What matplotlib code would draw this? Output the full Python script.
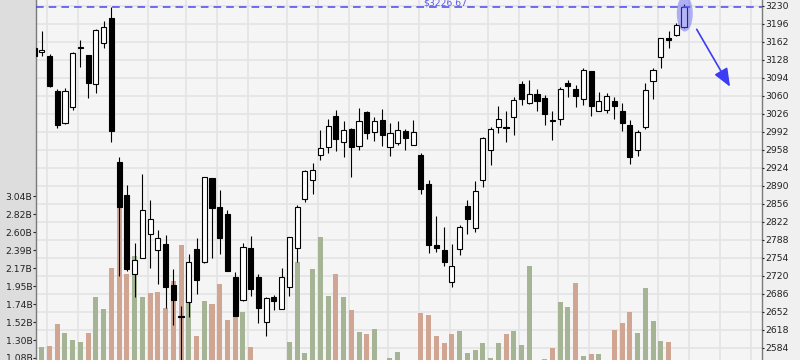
import numpy as np
import matplotlib
matplotlib.use("Agg")
import matplotlib.pyplot as plt
from matplotlib.patches import Ellipse, Rectangle
from matplotlib.transforms import blended_transform_factory

# K线数据（开、高、低、收）
opens = [3150.3, 3141.6, 3134.6, 3068.5, 3008.6, 3038.9, 3150.3, 3136.5, 3081.2, 3159.7,
         3206.4, 2933.8, 2872.1, 2722.3, 2752.5, 2797.8, 2767.6, 2779.5, 2701.5, 2643.0,
         2670.5, 2770.1, 2746.1, 2903.6, 2849.4, 2835.6, 2717.2, 2674.3, 2772.0, 2716.6,
         2631.6, 2679.4, 2657.3, 2697.7, 2772.5, 2865.1, 2901.0, 2948.2, 2963.3, 3020.7,
         2972.7, 2996.2, 2965.2, 3028.3, 2991.6, 3013.2, 2963.3, 2970.9, 2992.4, 2967.1,
         2948.2, 2892.8, 2777.6, 2768.2, 2707.2, 2770.6, 2851.3, 2810.3, 2901.0, 2957.6,
         3001.1, 3000.0, 3020.0, 3081.7, 3046.4, 3062.8, 3055.3, 3013.0, 3015.1, 3083.6,
         3072.3, 3054.0, 3106.3, 3030.2, 3032.1, 3049.6, 3030.7, 3004.3, 2956.5, 3001.1,
         3086.8, 3132.2, 3168.1, 3173.7, 3188.8]
highs = [3153.0, 3181.8, 3137.8, 3071.7, 3073.6, 3141.6, 3164.8, 3137.0, 3185.6, 3200.7,
         3228.0, 2944.4, 2891.0, 2780.8, 2911.7, 2862.6, 2806.0, 2795.9, 2732.3, 2662.4,
         2760.0, 2790.3, 2907.0, 2904.5, 2881.5, 2843.2, 2726.6, 2780.8, 2794.1, 2722.3,
         2680.0, 2683.2, 2733.6, 2793.0, 2852.6, 2918.7, 2931.9, 2994.3, 3015.1, 3032.1,
         3011.3, 2998.0, 3035.8, 3030.2, 3018.8, 3033.9, 3007.5, 3011.3, 2996.2, 3013.2,
         2950.8, 2900.4, 2832.4, 2811.1, 2779.5, 2814.8, 2862.6, 2898.5, 2982.2, 3000.0,
         3039.6, 3030.2, 3057.2, 3087.4, 3089.3, 3072.3, 3061.0, 3030.7, 3075.5, 3089.3,
         3079.9, 3111.4, 3107.0, 3066.6, 3064.2, 3057.2, 3045.8, 3013.7, 2994.3, 3083.6,
         3112.0, 3168.5, 3181.3, 3196.4, 3232.8]
lows = [3133.0, 3135.2, 3075.5, 2999.2, 3006.7, 3033.2, 3114.4, 3055.9, 3065.3, 3150.3,
        2972.7, 2719.1, 2729.1, 2680.0, 2752.5, 2734.7, 2704.5, 2659.2, 2627.1, 2540.0,
        2642.2, 2685.6, 2744.2, 2753.6, 2761.2, 2728.0, 2643.0, 2672.4, 2681.9, 2630.9,
        2606.3, 2655.4, 2657.0, 2681.9, 2746.1, 2859.4, 2874.5, 2938.7, 2952.0, 2955.7,
        2944.4, 2906.6, 2957.6, 2978.4, 2974.6, 2965.2, 2946.3, 2967.1, 2957.6, 2967.0,
        2874.5, 2763.1, 2765.0, 2738.5, 2698.9, 2759.3, 2799.0, 2802.7, 2887.7, 2929.3,
        2989.7, 2972.7, 2986.0, 3042.6, 3044.5, 3031.3, 3004.9, 2976.5, 3005.0, 3057.7,
        3038.9, 3042.6, 3021.9, 3030.0, 3027.5, 3016.2, 2993.5, 2931.2, 2946.3, 2997.3,
        3052.8, 3112.5, 3150.3, 3171.8, 3186.9]
closes = [3135.2, 3146.0, 3078.0, 3004.3, 3068.5, 3140.3, 3151.0, 3084.2, 3183.7, 3188.8,
          2993.5, 2850.0, 2732.8, 2748.7, 2843.2, 2826.2, 2790.3, 2698.9, 2674.3, 2641.5,
          2744.9, 2712.1, 2905.5, 2848.1, 2791.4, 2729.1, 2644.1, 2773.3, 2695.1, 2659.2,
          2676.9, 2672.4, 2716.6, 2792.2, 2848.8, 2916.8, 2918.7, 2960.3, 3001.8, 2978.4,
          2994.3, 2963.3, 3011.3, 2989.7, 3011.3, 2986.0, 2988.6, 2994.3, 2980.3, 2990.5,
          2884.0, 2778.2, 2772.5, 2746.1, 2738.0, 2811.1, 2827.3, 2879.1, 2979.7, 2996.2,
          3015.1, 2998.5, 3051.5, 3054.0, 3062.3, 3050.2, 3025.6, 3012.0, 3071.7, 3078.0,
          3059.6, 3107.6, 3040.7, 3049.1, 3058.5, 3040.7, 3008.6, 2944.4, 2990.5, 3069.8,
          3107.6, 3168.1, 3164.3, 3192.6, 3226.67]
# 成交量（十亿）
volumes = [1.55, 1.21, 1.23, 1.49, 1.38, 1.30, 1.27, 1.38, 1.82, 1.67,
           2.17, 3.10, 2.10, 2.31, 1.82, 1.87, 1.88, 1.69, 2.01, 2.45,
           1.95, 1.35, 1.77, 1.73, 1.98, 1.54, 1.90, 1.64, 1.21, 0.95,
           0.95, 0.95, 0.98, 1.27, 2.24, 1.14, 2.16, 2.54, 1.83, 2.10,
           1.82, 1.66, 1.40, 1.37, 1.43, 0.98, 1.08, 1.15, 0.98, 0.98,
           1.63, 1.60, 1.35, 1.26, 1.37, 1.41, 1.14, 1.18, 1.26, 1.08,
           1.26, 1.37, 1.41, 1.24, 2.19, 0.98, 1.07, 1.20, 1.76, 1.70,
           1.99, 1.10, 1.13, 1.13, 0.98, 1.42, 1.50, 1.64, 1.38, 1.93,
           1.53, 1.29, 1.27, 0.98, 0.98]

# 每周第一个交易日（竖向网格线）
week_starts = [2, 6, 15, 20, 24, 28, 33, 37, 41, 46, 50, 54, 59, 63, 68, 72, 76, 81, 85, 89, 93]
price_ticks = list(range(2584, 3231, 34))
vol_labels = ["1.08B", "1.30B", "1.52B", "1.74B", "1.95B", "2.17B", "2.39B", "2.60B", "2.82B", "3.04B"]
ref_level = 3226.67
ref_text = "$3226.67"

W = 800
left_px, right_px = 35.5, 762
grid_c = "#e4e4e4"
up_vol_c = "#a6b496"
down_vol_c = "#d0a592"

fig = plt.figure(figsize=(8, 3.6), dpi=100, facecolor="#f0f0f0")
fig.add_artist(Rectangle((0, 0), left_px / W, 1, transform=fig.transFigure,
                         color="#dddddd", zorder=0))

ax_v = fig.add_axes([left_px / W, 0, (right_px - left_px) / W, 1])
ax_p = ax_v.twinx()
ax_v.set_facecolor("#f5f5f5")

idx = np.arange(len(closes))
ax_v.set_xlim(0.19, 94.08)
ax_v.set_ylim(1.0558, 5.4114)
ax_p.set_ylim(2560.39, 3240.39)

# 网格
for w in week_starts:
    ax_v.axvline(w - 0.3, color=grid_c, lw=1.2, zorder=0)
trans = blended_transform_factory(ax_v.transAxes, ax_p.transData)
for p in price_ticks:
    ax_v.plot([0, 1], [p, p], transform=trans, color=grid_c, lw=1.2, zorder=0)

# 成交量：收盘价与前一日比较决定颜色
o = np.array(opens)
c = np.array(closes)
prev = np.concatenate([[o[0]], c[:-1]])
vol_colors = [up_vol_c if c[i] >= prev[i] else down_vol_c for i in idx]
ax_v.bar(idx, volumes, width=0.65, color=vol_colors, zorder=2)

# K线
ax_p.vlines(idx, lows, highs, color="black", lw=0.8, zorder=2)
body_bottom = np.minimum(o, c)
body_h = np.abs(c - o)
faces = ["white" if c[i] >= o[i] else "black" for i in idx]
ax_p.bar(idx, body_h, bottom=body_bottom, width=0.66, color=faces,
         edgecolor="black", linewidth=0.8, zorder=3)

# 参考线和标注
ax_p.axhline(ref_level, color="#4848f0", lw=1.1, dashes=(5, 3.3), zorder=4)
ax_p.text(53.1, ref_level + 4, ref_text, ha="center", va="baseline",
          fontsize=6.7, color="#5a5aee", zorder=4)
ax_p.add_patch(Ellipse((idx[-1] + 0.1, highs[-1] - 18), width=2.07, height=68,
                       color=(0.35, 0.35, 0.95), alpha=0.45, lw=0, zorder=5))
ax_p.annotate("", xy=(idx[-1] + 5.95, 3076.6), xytext=(idx[-1] + 1.64, 3185.0),
              arrowprops=dict(arrowstyle="-|>,head_length=1.1,head_width=0.45",
                              color="#3c3cf5", lw=1.2, mutation_scale=10,
                              shrinkA=0, shrinkB=0), zorder=6)

# 坐标轴
ax_v.set_xticks([])
ax_v.set_yticks(np.linspace(1.08, 3.04, 10))
ax_v.set_yticklabels(vol_labels)
ax_v.yaxis.tick_left()
ax_v.tick_params(axis="y", length=2, width=0.8, pad=0.3, labelsize=6.7,
                 colors="#222222")
ax_p.set_yticks(price_ticks)
ax_p.yaxis.tick_right()
ax_p.tick_params(axis="y", length=1.5, width=0.8, pad=1.2, labelsize=6.7,
                 colors="#222222")

for s in ["top", "bottom"]:
    ax_v.spines[s].set_visible(False)
for s in ["left", "right"]:
    ax_v.spines[s].set_color("#7a7a7a")
    ax_v.spines[s].set_linewidth(1)
for s in ax_p.spines.values():
    s.set_visible(False)

fig.savefig("out.png", dpi=100, facecolor=fig.get_facecolor())
